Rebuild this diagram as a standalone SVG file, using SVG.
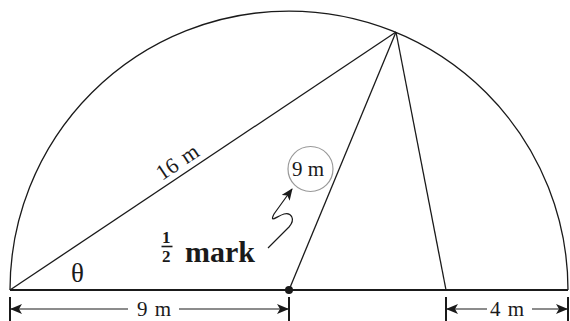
<svg xmlns="http://www.w3.org/2000/svg" width="570" height="321" viewBox="0 0 570 321">
<defs>
<marker id="ah" viewBox="0 0 12 10" refX="11" refY="5" markerWidth="12" markerHeight="10" markerUnits="userSpaceOnUse" orient="auto">
<path d="M0,0 L12,5 L0,10 L3,5 Z" fill="#1a1a1a"/>
</marker>
</defs>
<rect width="570" height="321" fill="#fff"/>
<g id="figure" stroke="#1a1a1a" fill="none">
<path stroke-width="1.3" d="M10,290 A279,279 0 0 1 568,290"/>
<line stroke-width="2.2" x1="10" y1="290" x2="568" y2="290"/>
</g>
<g id="connectors" stroke="#1a1a1a" fill="none" stroke-width="1.3">
<line x1="10" y1="290" x2="396" y2="32"/>
<line x1="289" y1="290" x2="396" y2="32"/>
<line x1="446" y1="290" x2="396" y2="32"/>
<path stroke-width="1.2" d="M268,248 L289,227 C296,219 291,212 284,214 C277,216 269,224 274,214 L292,189" marker-end="url(#ah)"/>
</g>
<g id="center-dot"><circle cx="289" cy="290" r="4" fill="#1a1a1a"/></g>
<g id="dimensions">
<g stroke="#1a1a1a" stroke-width="2">
<line x1="10" y1="297" x2="10" y2="321"/>
<line x1="289" y1="297" x2="289" y2="321"/>
<line x1="446" y1="297" x2="446" y2="321"/>
<line x1="568" y1="297" x2="568" y2="321"/>
</g>
<g stroke="#1a1a1a" stroke-width="1.2" fill="none">
<line x1="128" y1="309" x2="11" y2="309" marker-end="url(#ah)"/>
<line x1="179" y1="309" x2="288" y2="309" marker-end="url(#ah)"/>
<line x1="487" y1="309" x2="447" y2="309" marker-end="url(#ah)"/>
<line x1="532" y1="309" x2="567" y2="309" marker-end="url(#ah)"/>
</g>
<text x="137" y="316" font-family="Liberation Serif" font-size="21" fill="#1a1a1a" word-spacing="2">9 m</text>
<text x="490" y="316" font-family="Liberation Serif" font-size="21" fill="#1a1a1a" word-spacing="2">4 m</text>
</g>
<g id="label-16m">
<text x="162" y="181" font-family="Liberation Serif" font-size="22" fill="#1a1a1a" word-spacing="2" transform="rotate(-33.75 162 181)">16 m</text>
</g>
<g id="label-9m-circle">
<circle cx="310.5" cy="169" r="22.5" fill="none" stroke="#999" stroke-width="1.2"/>
<text x="292" y="176" font-family="Liberation Serif" font-size="21" fill="#1a1a1a">9 m</text>
</g>
<g id="theta">
<text x="71" y="282" font-family="Liberation Serif" font-size="27" fill="#1a1a1a">θ</text>
</g>
<g id="half-mark">
<text x="162" y="243" font-family="Liberation Serif" font-weight="bold" font-size="17" fill="#1a1a1a">1</text>
<line x1="161.5" y1="246.5" x2="172.5" y2="246.5" stroke="#1a1a1a" stroke-width="1.6"/>
<text x="162" y="262" font-family="Liberation Serif" font-weight="bold" font-size="17" fill="#1a1a1a">2</text>
<text x="185" y="262" font-family="Liberation Serif" font-weight="bold" font-size="30" fill="#1a1a1a">mark</text>
</g>
</svg>
